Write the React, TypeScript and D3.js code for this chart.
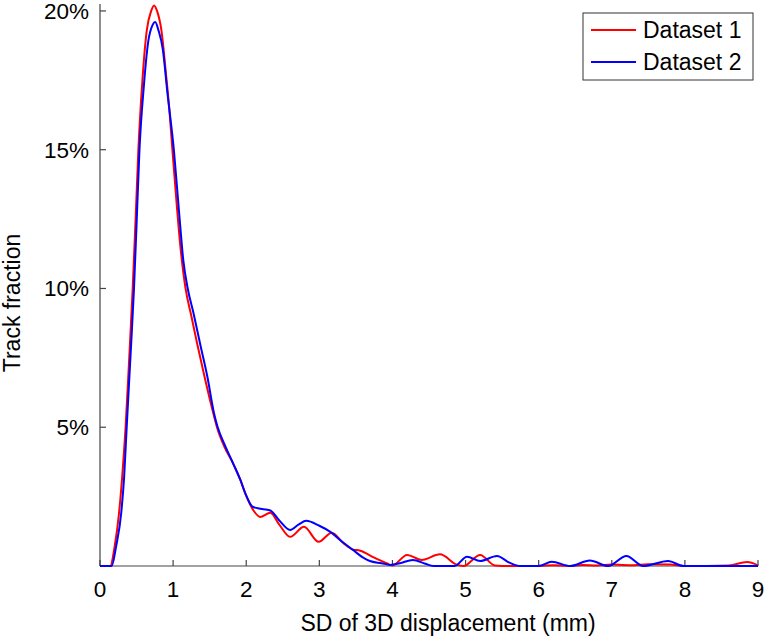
import React from "react";
import * as d3 from "d3";

const xTicks = [0, 1, 2, 3, 4, 5, 6, 7, 8, 9];
const yTicks = [5, 10, 15, 20];
const yTickLabels = ["5%", "10%", "15%", "20%"];
const seriesNames = ["Dataset 1", "Dataset 2"];
const seriesColors = ["#ff0000", "#0000ff"];

// Dataset 1 (red): SD (mm) and track fraction (%)
const redX = [0, 0.14, 0.2, 0.26, 0.3, 0.35, 0.4, 0.447, 0.49, 0.525, 0.58, 0.64, 0.7, 0.74, 0.78, 0.84, 0.9, 0.95, 0.99, 1.05, 1.1, 1.17, 1.25, 1.33, 1.44, 1.55, 1.6, 1.7, 1.82, 1.92, 1.99, 2.1, 2.19, 2.33, 2.45, 2.6, 2.79, 2.99, 3.17, 3.33, 3.45, 3.56, 3.75, 3.92, 4.0, 4.2, 4.4, 4.65, 4.88, 4.97, 5.2, 5.4, 5.6, 6.0, 6.2, 6.4, 6.6, 6.8, 7.0, 7.3, 7.5, 7.8, 8.0, 8.6, 8.85, 9.0];
const redY = [0, 0, 0.7, 1.9, 3.1, 5.0, 7.5, 10, 12.7, 15, 17.5, 19.3, 20.0, 20.2, 20.0, 19.3, 17.8, 16.4, 15, 13.0, 11.5, 10, 9.0, 8.0, 6.7, 5.5, 5.0, 4.3, 3.7, 3.1, 2.6, 2.0, 1.77, 1.92, 1.5, 1.05, 1.41, 0.87, 1.2, 0.82, 0.6, 0.55, 0.3, 0.1, 0.02, 0.4, 0.22, 0.42, 0.05, 0.0, 0.4, 0.02, 0, 0, 0.03, 0, 0.04, 0.02, 0.05, 0.03, 0.06, 0.05, 0, 0.02, 0.14, 0.02];

// Dataset 2 (blue)
const blueX = [0, 0.16, 0.22, 0.29, 0.33, 0.365, 0.42, 0.465, 0.5, 0.54, 0.6, 0.66, 0.72, 0.755, 0.8, 0.86, 0.92, 1.01, 1.08, 1.14, 1.2, 1.28, 1.37, 1.47, 1.56, 1.61, 1.7, 1.82, 1.92, 1.99, 2.08, 2.16, 2.33, 2.45, 2.6, 2.72, 2.82, 3.0, 3.15, 3.3, 3.46, 3.6, 3.69, 3.85, 3.97, 4.1, 4.28, 4.45, 4.56, 4.85, 5.02, 5.2, 5.43, 5.6, 5.75, 6.0, 6.18, 6.43, 6.7, 6.95, 7.2, 7.43, 7.77, 7.98, 9.0];
const blueY = [0, 0, 0.7, 1.9, 3.2, 5.0, 7.7, 10, 12.3, 15, 17.3, 18.9, 19.5, 19.6, 19.3, 18.6, 17.1, 15, 12.8, 11.0, 10, 9.1, 8.0, 6.8, 5.5, 5.0, 4.4, 3.7, 3.1, 2.6, 2.15, 2.08, 2.0, 1.65, 1.3, 1.5, 1.63, 1.45, 1.23, 0.9, 0.58, 0.3, 0.18, 0.1, 0.04, 0.1, 0.22, 0.08, 0, 0, 0.33, 0.18, 0.36, 0.12, 0, 0, 0.15, 0, 0.2, 0, 0.36, 0, 0.18, 0, 0];

const W = 768;
const H = 644;
const FONT = "'Liberation Sans', Arial, sans-serif";

export default function App() {
  const x = d3.scaleLinear().domain([0, 9]).range([100, 758]);
  const y = d3.scaleLinear().domain([0, 20.25]).range([566, 4]);

  const line = d3
    .line<[number, number]>()
    .x((d) => x(d[0]))
    .y((d) => y(d[1]))
    .curve(d3.curveMonotoneX);

  const red: [number, number][] = redX.map((v, i) => [v, redY[i]]);
  const blue: [number, number][] = blueX.map((v, i) => [v, blueY[i]]);
  const series = [red, blue];

  const axisColor = "#444";

  return (
    <svg
      width={W}
      height={H}
      style={{ position: "absolute", left: 0, top: 0, background: "#fff" }}
      fontFamily={FONT}
    >
      <rect x={0} y={0} width={W} height={H} fill="#fff" />
      {/* axes */}
      <line x1={x(0)} x2={x(9)} y1={y(0)} y2={y(0)} stroke={axisColor} strokeWidth={1.2} />
      <line x1={x(0)} x2={x(0)} y1={y(0)} y2={y(20.25)} stroke={axisColor} strokeWidth={1.2} />
      {xTicks.map((t) => (
        <g key={"xt" + t}>
          <line x1={x(t)} x2={x(t)} y1={y(0)} y2={y(0) - 6} stroke={axisColor} strokeWidth={1.2} />
          <text x={x(t)} y={597} textAnchor="middle" fontSize={22.5} fill="#000">
            {t}
          </text>
        </g>
      ))}
      {yTicks.map((t, i) => (
        <g key={"yt" + t}>
          <line x1={x(0)} x2={x(0) + 6} y1={y(t)} y2={y(t)} stroke={axisColor} strokeWidth={1.2} />
          <text x={89} y={y(t) + 8} textAnchor="end" fontSize={22.5} fill="#000">
            {yTickLabels[i]}
          </text>
        </g>
      ))}
      {/* axis labels */}
      <text x={448} y={631} textAnchor="middle" fontSize={23} fill="#000">
        SD of 3D displacement (mm)
      </text>
      <text
        transform={`translate(20, 303) rotate(-90)`}
        textAnchor="middle"
        fontSize={23}
        fill="#000"
      >
        Track fraction
      </text>
      {/* series */}
      {series.map((s, i) => (
        <path
          key={"s" + i}
          d={line(s) || ""}
          fill="none"
          stroke={seriesColors[i]}
          strokeWidth={2}
          strokeLinejoin="round"
        />
      ))}
      {/* legend */}
      <rect x={583} y={13} width={170} height={67} fill="#fff" stroke="#333" strokeWidth={1} />
      {seriesNames.map((n, i) => (
        <g key={"lg" + i}>
          <line x1={591} x2={636} y1={30 + i * 32} y2={30 + i * 32} stroke={seriesColors[i]} strokeWidth={2} />
          <text x={643} y={30 + i * 32 + 8} fontSize={23} fill="#000">
            {n}
          </text>
        </g>
      ))}
    </svg>
  );
}
